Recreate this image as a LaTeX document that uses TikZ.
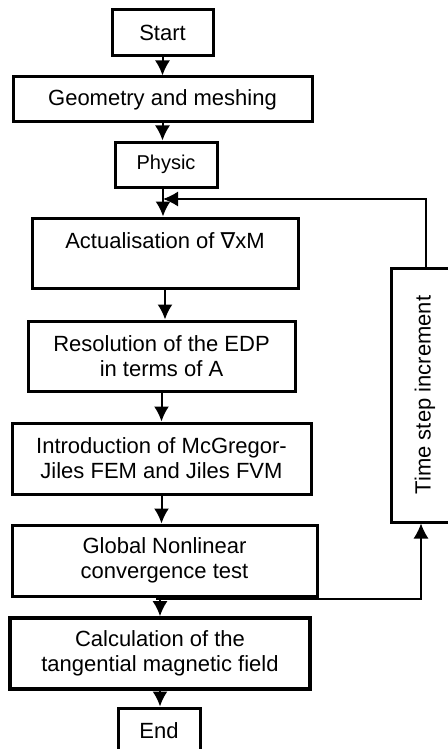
\documentclass[tikz,border=0pt]{standalone}
\usepackage{fontspec}
\setmainfont{Liberation Sans}
\newfontfamily\nablafont{DejaVu Sans}
\usetikzlibrary{positioning}
\usetikzlibrary{arrows.meta}
\usetikzlibrary{calc}

\tikzset{
  box/.style={draw, line width=1.5pt, align=center, inner sep=0pt,
    font=\fontsize{11}{12.5}\selectfont},
  arr/.style={-{Latex[length=7.5pt,width=7.5pt]}, line width=1pt},
  fb/.style={line width=0.7pt},
}

\begin{document}
\begin{tikzpicture}[x=0.5pt,y=-0.5pt]

\useasboundingbox (0,0) rectangle (448,749);

% main column
\node[box, minimum width=50.5pt, minimum height=23pt] (start) at (162.5,33) {Start};
\node[box, minimum width=149.5pt, minimum height=22.5pt] (geom) at (162.5,99.5) {Geometry and meshing};
\node[box, minimum width=51pt, minimum height=22.5pt, font=\fontsize{10}{12}\selectfont] (physic) at (166,164.5) {Physic};
\node[box, minimum width=133pt, minimum height=35pt] (actual) at (165,253) {Actualisation of {\nablafont ∇}xM\\\mbox{}};
\node[box, minimum width=133.5pt, minimum height=35pt] (resol) at (161.5,356) {Resolution of the EDP\\in terms of A};
\node[box, minimum width=149.5pt, minimum height=35.5pt] (intro) at (161.5,458.5) {Introduction of McGregor-\\Jiles FEM and Jiles FVM};
\node[box, minimum width=152.5pt, minimum height=35.5pt] (global) at (164.5,560.5) {Global Nonlinear\\convergence test};
\node[box, line width=1.8pt, minimum width=150pt, minimum height=35.5pt] (calc) at (160,653.5) {Calculation of the\\tangential magnetic field};
\node[box, minimum width=41pt, minimum height=23pt] (end) at (159,731) {End};

% loop box
\node[box, minimum width=34pt, minimum height=127pt] (tstep) at (425,395) {\rotatebox{90}{Time step increment}};

\coordinate (split) at (160,599);
\coordinate (back) at (163,199);

\draw[arr] (start.south) -- (start.south |- geom.north);
\draw[arr] (geom.south) -- (geom.south |- physic.north);
\draw[arr] (back |- physic.south) -- (back |- actual.north);
\draw[arr] (actual.south) -- (actual.south |- resol.north);
\draw[arr] (resol.south) -- (resol.south |- intro.north);
\draw[arr] (intro.south) -- (intro.south |- global.north);
\draw[arr] (split |- global.south) -- (split |- calc.north);
\draw[arr] (calc.south) -- (calc.south |- end.north);

% feedback
\draw[fb, -{Latex[length=7.5pt,width=7.5pt]}] ([xshift=-2pt]split) -| ([xshift=-2pt]tstep.south);
\draw[fb, -{Latex[length=7.5pt,width=7.5pt]}] ([xshift=0.5pt]tstep.north) |- (back);

\end{tikzpicture}
\end{document}
